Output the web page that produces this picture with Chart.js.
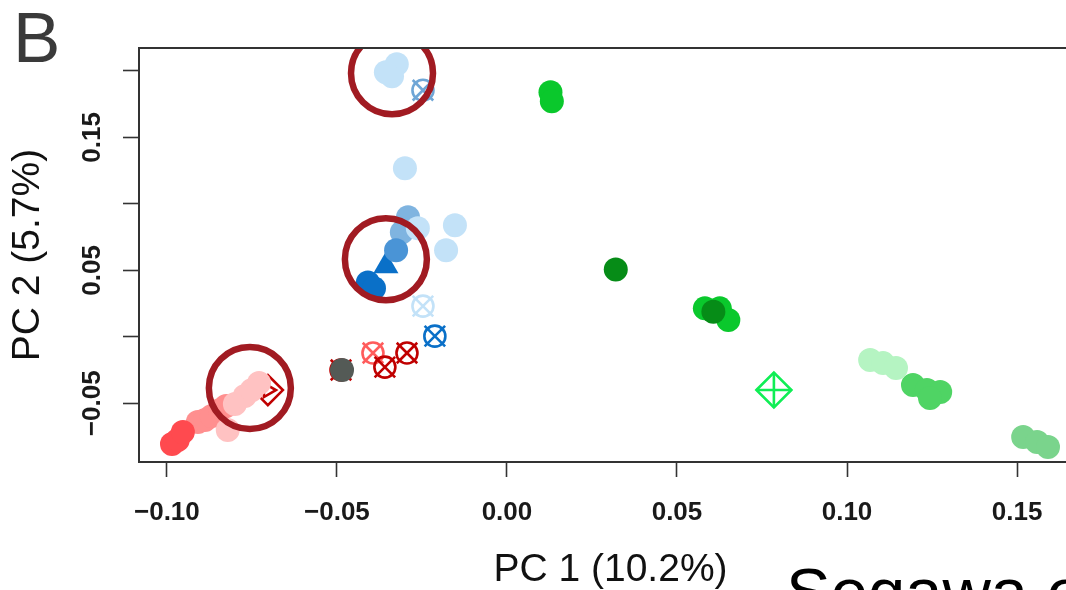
<!DOCTYPE html>
<html>
<head>
<meta charset="utf-8">
<script src="https://cdn.jsdelivr.net/npm/chart.js@4.4.1/dist/chart.umd.min.js"></script>
<style>
  html, body { margin: 0; padding: 0; background: #fff; }
  #frame { position: relative; width: 1066px; height: 590px; overflow: hidden; }
  #wrap { position: absolute; left: 0; top: 0; width: 1120px; height: 590px; }
  #panel { position: absolute; left: 13px; top: 2px; font: 71px/1 "Liberation Sans", Arial, sans-serif; color: #3a3a3a; }
  #credit { position: absolute; left: 786px; top: 558px; font: 67px/1 "Liberation Sans", Arial, sans-serif; color: #000; white-space: nowrap; }
</style>
</head>
<body>
<div id="frame">
  <div id="wrap"><canvas id="pca" width="1120" height="590"></canvas></div>
  <div id="panel">B</div>
  <div id="credit">Segawa et al.</div>
</div>
<script>
// Axis ticks
const xTicks = [-0.10, -0.05, 0.00, 0.05, 0.10, 0.15];
const xTickLabels = ['\u22120.10', '\u22120.05', '0.00', '0.05', '0.10', '0.15'];
const yTicks = [-0.05, 0.00, 0.05, 0.10, 0.15, 0.20];
const yTickLabels = ['\u22120.05', '', '0.05', '', '0.15', ''];

// PCA scores [PC1, PC2] per sample group
const lightBlue   = [[-0.0324, 0.2050], [-0.0338, 0.1961], [-0.0356, 0.1990], [-0.0300, 0.1269],
                     [-0.0262, 0.0817], [-0.0153, 0.0840], [-0.0179, 0.0652]];
const midBlue     = [[-0.0291, 0.0900], [-0.0309, 0.0787]];
const blue        = [[-0.0326, 0.0652]];
const deepBlue    = [[-0.0409, 0.0409], [-0.0391, 0.0366]];
const deepBlueTri = [[-0.0356, 0.0532]];
const midBlueCx   = [[-0.0247, 0.1855]];
const lightBlueCx = [[-0.0247, 0.0231]];
const deepBlueCx  = [[-0.0212, 0.0005]];
const lightRedCx  = [[-0.0394, -0.0122]];
const darkRedCx   = [[-0.0488, -0.0250], [-0.0294, -0.0122], [-0.0359, -0.0228]];
const greyPt      = [[-0.0485, -0.0250]];
const red         = [[-0.0985, -0.0806], [-0.0968, -0.0776], [-0.0953, -0.0716]];
const salmon      = [[-0.0909, -0.0641], [-0.0888, -0.0626], [-0.0868, -0.0596], [-0.0844, -0.0551], [-0.0826, -0.0521]];
const pink        = [[-0.0821, -0.0701], [-0.0800, -0.0506], [-0.0771, -0.0446], [-0.0750, -0.0401], [-0.0729, -0.0348]];
const darkRedSq   = [[-0.0703, -0.0401]];
const green       = [[0.0128, 0.1840], [0.0132, 0.1772], [0.0582, 0.0214], [0.0626, 0.0214], [0.0651, 0.0126]];
const darkGreen   = [[0.0320, 0.0507], [0.0607, 0.0188]];
const greenDia    = [[0.0785, -0.0400]];
const lightGreen  = [[0.1068, -0.0175], [0.1106, -0.0198], [0.1144, -0.0235]];
const midGreen    = [[0.1194, -0.0363], [0.1235, -0.0400], [0.1274, -0.0416], [0.1244, -0.0461]];
const paleGreen   = [[0.1518, -0.0754], [0.1559, -0.0792], [0.1591, -0.0829]];
// highlighted samples
const rings       = [[-0.0338, 0.1983], [-0.0356, 0.0584], [-0.0756, -0.0385]];

const pts = arr => arr.map(([x, y]) => ({ x, y }));

function dot(data, color) {
  return { data: pts(data), pointStyle: 'circle', pointRadius: 12, backgroundColor: color, borderColor: color, borderWidth: 0 };
}
function outline(data, color, style, radius, rotation) {
  return { data: pts(data), pointStyle: style, pointRadius: radius, pointRotation: rotation || 0,
           backgroundColor: 'rgba(0,0,0,0)', borderColor: color, borderWidth: 2.6 };
}
// circle with an X through it
function circleX(data, color) {
  return [outline(data, color, 'crossRot', 14.5), outline(data, color, 'circle', 10.5)];
}

// first dataset is drawn on top
const datasets = [
  { data: pts(rings), pointStyle: 'circle', pointRadius: 41, backgroundColor: 'rgba(0,0,0,0)', borderColor: '#a11b22', borderWidth: 6.5 },
  dot(greyPt, '#545a56'),
  dot(pink, '#ffc2c2'),
  dot(red, '#ff4a4f'),
  dot(salmon, '#ff8f8f'),
  outline(darkRedSq, '#c00000', 'rectRot', 15),
  outline(darkRedSq, '#c00000', 'triangle', 8, 90),
  ...circleX(darkRedCx, '#c00000'),
  ...circleX(lightRedCx, '#ff5c5c'),
  ...circleX(deepBlueCx, '#0a70c8'),
  ...circleX(lightBlueCx, '#c3e2f8'),
  ...circleX(midBlueCx, '#6fa6d6'),
  dot(deepBlue, '#0a70c8'),
  dot(blue, '#4a94d6'),
  { data: pts(deepBlueTri), pointStyle: 'triangle', pointRadius: 14.5, backgroundColor: '#0a70c8', borderWidth: 0 },
  dot(lightBlue, '#c3e2f8'),
  dot(midBlue, '#7fb4e0'),
  dot(darkGreen, '#068c17'),
  dot(green, '#0ac82c'),
  outline(greenDia, '#10ee55', 'cross', 17.5),
  outline(greenDia, '#10ee55', 'rectRot', 17.5),
  dot(lightGreen, '#b5f4c2'),
  dot(midGreen, '#4fd464'),
  dot(paleGreen, '#7ad48c')
];

// plot frame around the data region
const frameBox = {
  id: 'frameBox',
  afterDatasetsDraw(chart) {
    const { ctx, chartArea: a } = chart;
    ctx.save();
    ctx.strokeStyle = '#333';
    ctx.lineWidth = 2;
    ctx.strokeRect(a.left, a.top, a.right - a.left, a.bottom - a.top);
    ctx.restore();
  }
};

const tickFont = { family: '"Liberation Sans", Arial, sans-serif', size: 26, weight: 'bold' };
const titleFont = { family: '"Liberation Sans", Arial, sans-serif', size: 39, weight: 'normal' };

new Chart(document.getElementById('pca'), {
  type: 'scatter',
  data: { datasets },
  options: {
    responsive: false,
    animation: false,
    events: [],
    devicePixelRatio: 1,
    layout: { autoPadding: false, padding: { top: 48, right: 38, left: 0, bottom: 0 } },
    plugins: { legend: { display: false }, tooltip: { enabled: false } },
    elements: { point: { hoverRadius: 0 } },
    scales: {
      x: {
        type: 'linear', min: -0.1082, max: 0.1691,
        afterBuildTicks: s => { s.ticks = xTicks.map(v => ({ value: v })); },
        afterFit: s => { s.height = 128; },
        grid: { drawOnChartArea: false, drawTicks: true, tickLength: 15, tickWidth: 1.6, tickColor: '#333' },
        border: { display: false },
        ticks: { font: tickFont, color: '#1a1a1a', padding: 20, maxRotation: 0, autoSkip: false,
                 callback: (v, i) => xTickLabels[i] },
        title: { display: true, text: 'PC 1 (10.2%)', font: titleFont, color: '#111', padding: { top: 0, bottom: -4 } }
      },
      y: {
        type: 'linear', min: -0.0942, max: 0.2173,
        afterBuildTicks: s => { s.ticks = yTicks.map(v => ({ value: v })); },
        afterFit: s => { s.width = 139; },
        grid: { drawOnChartArea: false, drawTicks: true, tickLength: 16, tickWidth: 1.6, tickColor: '#333' },
        border: { display: false },
        ticks: { font: tickFont, color: '#1a1a1a', padding: -3, minRotation: 90, maxRotation: 90, crossAlign: 'center', autoSkip: false,
                 callback: (v, i) => yTickLabels[i] },
        title: { display: true, text: 'PC 2 (5.7%)', font: titleFont, color: '#111', padding: { top: 5, bottom: 0 } }
      }
    }
  },
  plugins: [frameBox]
});
</script>
</body>
</html>
